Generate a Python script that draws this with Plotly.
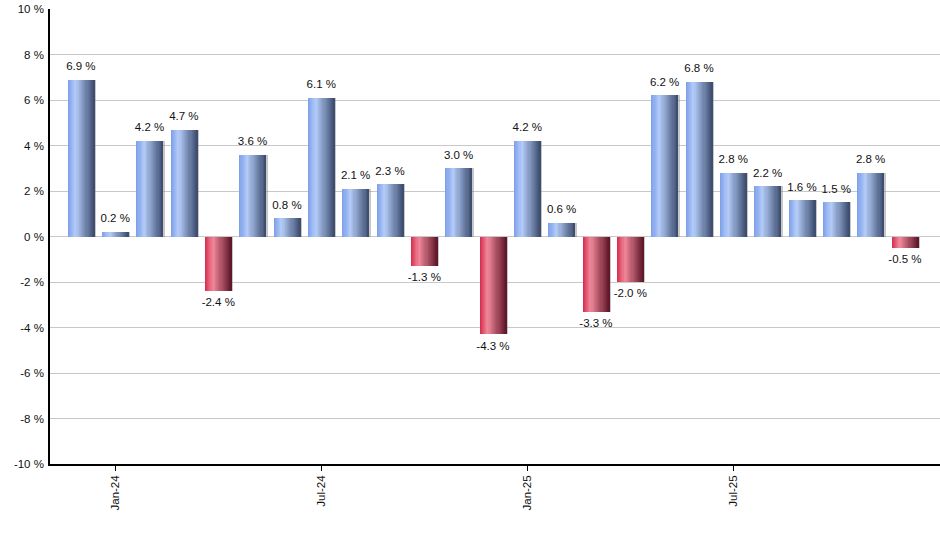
import plotly.graph_objects as go

# monthly returns, Dec-23 .. Dec-25
months = ["Dec-23", "Jan-24", "Feb-24", "Mar-24", "Apr-24", "May-24", "Jun-24",
          "Jul-24", "Aug-24", "Sep-24", "Oct-24", "Nov-24", "Dec-24",
          "Jan-25", "Feb-25", "Mar-25", "Apr-25", "May-25", "Jun-25",
          "Jul-25", "Aug-25", "Sep-25", "Oct-25", "Nov-25", "Dec-25"]
returns = [6.9, 0.2, 4.2, 4.7, -2.4, 3.6, 0.8, 6.1, 2.1, 2.3, -1.3, 3.0, -4.3,
           4.2, 0.6, -3.3, -2.0, 6.2, 6.8, 2.8, 2.2, 1.6, 1.5, 2.8, -0.5]
tick_months = ["Jan-24", "Jul-24", "Jan-25", "Jul-25"]
y_ticks = [-10, -8, -6, -4, -2, 0, 2, 4, 6, 8, 10]

BAR_W = 0.78
N_STRIPS = 24


def hex_rgb(h):
    h = h.lstrip("#")
    return tuple(int(h[i:i + 2], 16) for i in (0, 2, 4))


def mix(a, b, t):
    a, b = hex_rgb(a), hex_rgb(b)
    return "rgb(%d,%d,%d)" % tuple(round(a[i] + (b[i] - a[i]) * t) for i in range(3))


def grad(t, left, light, right, peak=0.3):
    # horizontal shading: mid tone -> highlight -> dark edge
    if t < peak:
        return mix(left, light, t / peak)
    return mix(light, right, (t - peak) / (1 - peak))


BLUE = ("#7b9eea", "#b4ccf8", "#3a4a6c")
RED = ("#d42a4c", "#f0889a", "#5c1527")

x_idx = list(range(len(months)))
pos_x = [i for i, v in zip(x_idx, returns) if v >= 0]
pos_y = [v for v in returns if v >= 0]
neg_x = [i for i, v in zip(x_idx, returns) if v < 0]
neg_y = [v for v in returns if v < 0]

fig = go.Figure()

# soft shadow behind each bar
fig.add_trace(go.Bar(
    x=x_idx, y=returns, width=BAR_W, offset=-BAR_W / 2 + 0.05,
    marker=dict(color="rgba(130,130,130,0.45)", line=dict(width=0)),
    hoverinfo="skip", showlegend=False
))

# gradient: each layer starts a bit further right and runs to the bar's edge
sw = BAR_W / N_STRIPS
for k in range(N_STRIPS):
    t = (k + 0.5) / N_STRIPS
    for xs, ys, pal in ((pos_x, pos_y, BLUE), (neg_x, neg_y, RED)):
        if not xs:
            continue
        fig.add_trace(go.Bar(
            x=xs, y=ys, width=BAR_W - k * sw, offset=-BAR_W / 2 + k * sw,
            marker=dict(color=grad(t, *pal), line=dict(width=0)),
            hoverinfo="skip", showlegend=False
        ))

# value labels (invisible markers push the text a little off the bar end)
labels = ["%.1f %%" % v for v in returns]
fig.add_trace(go.Scatter(
    x=x_idx, y=returns, mode="markers+text", text=labels,
    marker=dict(size=9, color="rgba(0,0,0,0)"),
    textposition=["top center" if v >= 0 else "bottom center" for v in returns],
    textfont=dict(family="Liberation Sans, Arial, sans-serif", size=11.5, color="#111"),
    hovertext=[f"{m}: {l}" for m, l in zip(months, labels)], hoverinfo="text",
    showlegend=False
))

fig.update_layout(
    width=940, height=550,
    barmode="overlay", bargap=0,
    plot_bgcolor="white", paper_bgcolor="white",
    margin=dict(l=50, r=0, t=9, b=86),
    font=dict(family="Liberation Sans, Arial, sans-serif", size=11.5, color="#111"),
    xaxis=dict(
        range=[-0.9, 25.02],
        tickmode="array",
        tickvals=[months.index(m) for m in tick_months],
        ticktext=tick_months,
        tickangle=-90,
        ticks="outside", ticklen=5, tickcolor="black",
        showgrid=False, zeroline=False,
        showline=True, linecolor="black", linewidth=1.5,
        automargin=False,
    ),
    yaxis=dict(
        range=[-10, 10],
        tickmode="array",
        tickvals=y_ticks,
        ticktext=["%d %%" % v for v in y_ticks],
        showgrid=True, gridcolor="#c8c8c8", gridwidth=1,
        zeroline=True, zerolinecolor="#c8c8c8", zerolinewidth=1,
        showline=True, linecolor="black", linewidth=1.5,
        ticks="", ticklabelstandoff=2,
        automargin=False,
    ),
)

# drop the browser's default page margin so the figure sits at the window corner
fig.write_html("out.html", config={"displayModeBar": False},
               post_script="document.body.style.margin='0';")
